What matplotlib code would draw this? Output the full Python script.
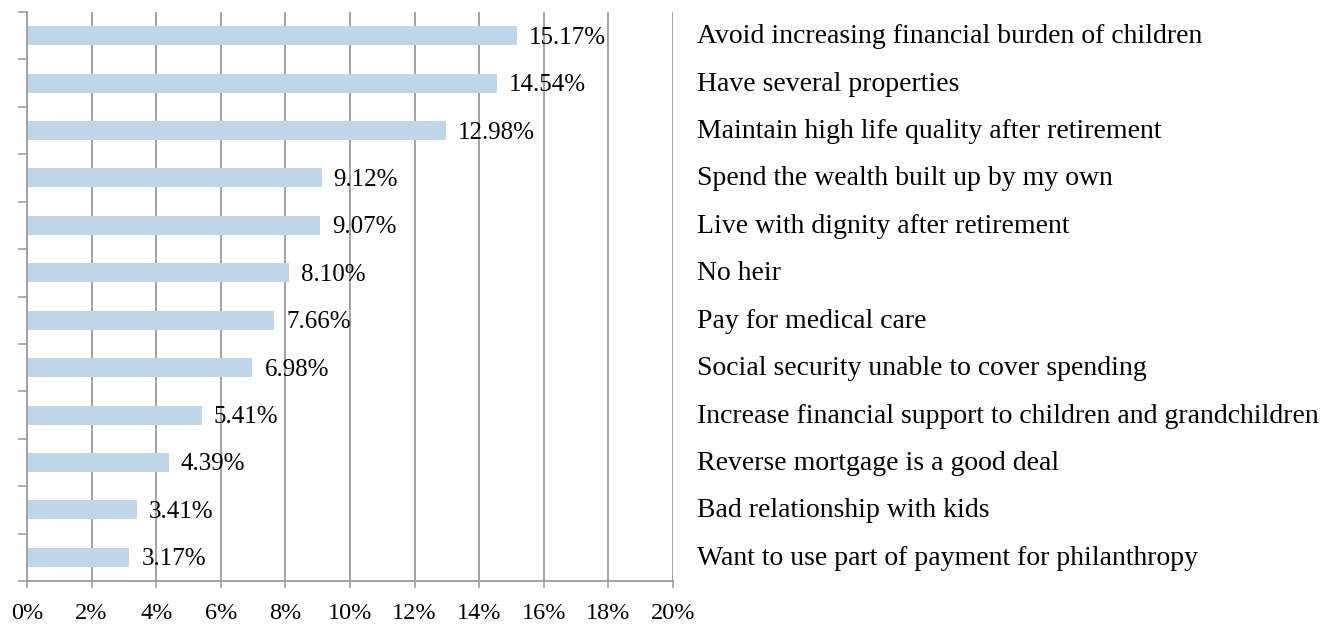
import matplotlib
matplotlib.use("Agg")
import matplotlib.pyplot as plt
import numpy as np

categories = [
    "Avoid increasing financial burden of children",
    "Have several properties",
    "Maintain high life quality after retirement",
    "Spend the wealth built up by my own",
    "Live with dignity after retirement",
    "No heir",
    "Pay for medical care",
    "Social security unable to cover spending",
    "Increase financial support to children and grandchildren",
    "Reverse mortgage is a good deal",
    "Bad relationship with kids",
    "Want to use part of payment for philanthropy",
]
values = [15.17, 14.54, 12.98, 9.12, 9.07, 8.10, 7.66, 6.98, 5.41, 4.39, 3.41, 3.17]
xticks = [0, 2, 4, 6, 8, 10, 12, 14, 16, 18, 20]

plt.rcParams["font.family"] = ["Liberation Serif", "DejaVu Serif"]
GRID = "#9a9a9a"
BAR = "#bfd5ea"

fig = plt.figure(figsize=(13.35, 6.26), dpi=100)
ax = fig.add_axes([27 / 1335, 1 - 581 / 626, (673 - 27) / 1335, (581 - 12) / 626])

n = len(categories)
ypos = np.arange(n)[::-1]
ax.barh(ypos, values, height=0.4, color=BAR, zorder=2)

ax.set_xlim(0, 20)
ax.set_ylim(-0.5, n - 0.5)
ax.set_xticks(xticks)
ax.set_xticklabels([f"{t}%" for t in xticks], fontsize=17.5)
ax.set_yticks(np.arange(-0.5, n, 1.0))
ax.set_yticklabels([])
ax.tick_params(axis="y", direction="out", length=6.5, width=1.1, color=GRID)
ax.tick_params(axis="x", direction="out", length=5, width=1.1, color=GRID, pad=11)

for t in xticks[1:]:
    ax.axvline(t, color=GRID, lw=1.3, zorder=1)

for s in ["top", "right"]:
    ax.spines[s].set_visible(False)
for s in ["left", "bottom"]:
    ax.spines[s].set_color(GRID)
    ax.spines[s].set_linewidth(1.3)

# value labels just past each bar end
for y, v in zip(ypos, values):
    ax.annotate(f"{v:.2f}%", xy=(v, y), xytext=(12, -2), textcoords="offset pixels",
                va="center", ha="left", fontsize=18, zorder=3)

# category names to the right of the plot area
for y, c in zip(ypos, categories):
    ax.annotate(c, xy=(1, y), xycoords=("axes fraction", "data"),
                xytext=(24, -1), textcoords="offset pixels",
                va="center", ha="left", fontsize=20, annotation_clip=False)

fig.savefig("out.png", dpi=100)
